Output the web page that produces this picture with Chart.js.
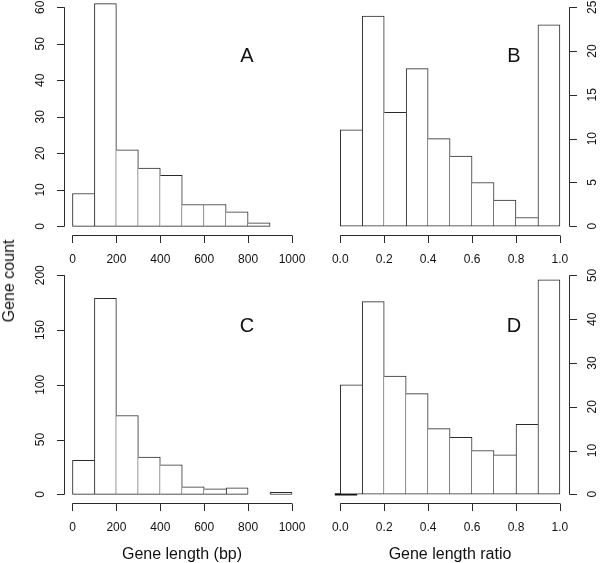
<!DOCTYPE html>
<html>
<head>
<meta charset="utf-8">
<script src="https://cdn.jsdelivr.net/npm/chart.js@4/dist/chart.umd.min.js"></script>
<style>
  html, body { margin: 0; padding: 0; background: #fff; }
  body { width: 600px; height: 563px; position: relative; overflow: hidden;
         font-family: "Liberation Sans", Arial, Helvetica, sans-serif; color: #111; }
  canvas { position: absolute; left: 0; top: 0; }
  .lbl { position: absolute; white-space: nowrap; line-height: 1; transform: translate(-50%, -50%); }
  .title { font-size: 16px; }
  .panel { font-size: 20px; }
  .rot { transform: translate(-50%, -50%) rotate(-90deg); }
</style>
</head>
<body>
<canvas id="cA" width="600" height="563"></canvas>
<canvas id="cB" width="600" height="563"></canvas>
<canvas id="cC" width="600" height="563"></canvas>
<canvas id="cD" width="600" height="563"></canvas>

<div class="lbl title rot" style="left:9px; top:281px;">Gene count</div>
<div class="lbl title" style="left:182px; top:554px;">Gene length (bp)</div>
<div class="lbl title" style="left:450px; top:554px;">Gene length ratio</div>
<div class="lbl panel" style="left:247px; top:55px;">A</div>
<div class="lbl panel" style="left:514px; top:55px;">B</div>
<div class="lbl panel" style="left:247px; top:325px;">C</div>
<div class="lbl panel" style="left:514px; top:325px;">D</div>

<script>
// ---------- data ----------
const lengthBinStarts = [0, 100, 200, 300, 400, 500, 600, 700, 800, 900];
const lengthBinWidth = 100;
const ratioBinStarts = [0.0, 0.1, 0.2, 0.3, 0.4, 0.5, 0.6, 0.7, 0.8, 0.9];
const ratioBinWidth = 0.1;

const countsA = [9, 61, 21, 16, 14, 6, 6, 4, 1, 0];
const countsB = [11, 24, 13, 18, 10, 8, 5, 3, 1, 23];
const countsC = [31, 179, 72, 34, 27, 7, 5, 6, 0, 2];
const countsD = [25, 44, 27, 23, 15, 13, 10, 9, 16, 49];

// short thick segment at the base of panel D
const dBaseX = [-0.025, 0.077];
const dBaseY = [0, 0];

const lengthTicks = [0, 200, 400, 600, 800, 1000];
const lengthTickLabels = ["0", "200", "400", "600", "800", "1000"];
const ratioTicks = [0.0, 0.2, 0.4, 0.6, 0.8, 1.0];
const ratioTickLabels = ["0.0", "0.2", "0.4", "0.6", "0.8", "1.0"];

const yTicksA = [0, 10, 20, 30, 40, 50, 60];
const yTicksB = [0, 5, 10, 15, 20, 25];
const yTicksC = [0, 50, 100, 150, 200];
const yTicksD = [0, 10, 20, 30, 40, 50];

// ---------- helpers ----------
function toBars(starts, width, counts) {
  return counts.map((c, i) => ({ x: starts[i] + width / 2, y: c }));
}

function edgeWidths(ctx) {
  const d = ctx.dataset.data;
  const i = ctx.dataIndex;
  const h = d[i].y;
  const prev = i > 0 ? d[i - 1].y : 0;
  const next = i < d.length - 1 ? d[i + 1].y : 0;
  return { top: 1, bottom: 1, left: h > prev ? 1 : 0, right: h >= next ? 1 : 0 };
}

const LINE = '#2a2a2a';
const TICK_FONT = '12px "Liberation Sans", Arial, Helvetica, sans-serif';

const rAxes = {
  id: 'rAxes',
  afterDraw(chart) {
    const o = chart.options.plugins.rAxes;
    if (!o) return;
    const ctx = chart.ctx;
    const xs = chart.scales.x, ys = chart.scales.y;
    const area = chart.chartArea;
    const tickLen = 7.5;
    ctx.save();
    ctx.strokeStyle = LINE;
    ctx.fillStyle = '#111';
    ctx.lineWidth = 1;
    ctx.font = TICK_FONT;

    // x axis
    const yAx = Math.round(area.bottom) + 0.5;
    const xFirst = xs.getPixelForValue(o.xTicks[0]);
    const xLast = xs.getPixelForValue(o.xTicks[o.xTicks.length - 1]);
    ctx.beginPath();
    ctx.moveTo(xFirst, yAx); ctx.lineTo(xLast, yAx);
    o.xTicks.forEach(v => {
      const px = Math.round(xs.getPixelForValue(v)) + 0.5;
      ctx.moveTo(px, yAx); ctx.lineTo(px, yAx + tickLen);
    });
    ctx.stroke();
    ctx.textAlign = 'center';
    ctx.textBaseline = 'middle';
    o.xTicks.forEach((v, i) => {
      ctx.fillText(o.xLabels[i], xs.getPixelForValue(v), yAx + 24.5);
    });

    // y axis
    const right = o.side === 'right';
    const xAx = Math.round(right ? area.right : area.left) + 0.5;
    const dir = right ? 1 : -1;
    const yFirst = ys.getPixelForValue(o.yTicks[0]);
    const yLast = ys.getPixelForValue(o.yTicks[o.yTicks.length - 1]);
    ctx.beginPath();
    ctx.moveTo(xAx, yFirst); ctx.lineTo(xAx, yLast);
    o.yTicks.forEach(v => {
      const py = Math.round(ys.getPixelForValue(v)) + 0.5;
      ctx.moveTo(xAx, py); ctx.lineTo(xAx + dir * tickLen, py);
    });
    ctx.stroke();
    o.yTicks.forEach(v => {
      ctx.save();
      ctx.translate(xAx + dir * 23.5, ys.getPixelForValue(v));
      ctx.rotate(-Math.PI / 2);
      ctx.fillText(String(v), 0, 0);
      ctx.restore();
    });
    ctx.restore();
  }
};

function makePanel(id, geom, xr, yr, bars, xTicks, xLabels, yTicks, side, extra) {
  const datasets = [{
    type: 'bar',
    data: bars,
    backgroundColor: '#ffffff',
    borderColor: LINE,
    borderWidth: edgeWidths,
    borderSkipped: false,
    barPercentage: 1,
    categoryPercentage: 1
  }];
  if (extra) datasets.push(extra);
  return new Chart(document.getElementById(id), {
    type: 'bar',
    data: { datasets },
    options: {
      responsive: false,
      animation: false,
      events: [],
      layout: { padding: { left: geom.left, right: 600 - geom.right, top: geom.top, bottom: 563 - geom.bottom } },
      plugins: { legend: { display: false }, tooltip: { enabled: false }, rAxes: { xTicks, xLabels, yTicks, side } },
      scales: {
        x: {
          type: 'linear', display: false, offset: false, min: xr[0], max: xr[1],
          afterBuildTicks: s => { s.ticks = xTicks.map(v => ({ value: v })); }
        },
        y: {
          type: 'linear', display: false, min: yr[0], max: yr[1],
          afterBuildTicks: s => { s.ticks = yTicks.map(v => ({ value: v })); }
        }
      }
    },
    plugins: [rAxes]
  });
}

makePanel('cA', { left: 63.7, right: 300.8, top: 0, bottom: 235.3 }, [-40, 1040], [-2.44, 62.0],
  toBars(lengthBinStarts, lengthBinWidth, countsA), lengthTicks, lengthTickLabels, yTicksA, 'left');

makePanel('cB', { left: 331.5, right: 568.7, top: 0, bottom: 235.3 }, [-0.04, 1.04], [-1.03, 25.83],
  toBars(ratioBinStarts, ratioBinWidth, countsB), ratioTicks, ratioTickLabels, yTicksB, 'right');

makePanel('cC', { left: 63.7, right: 300.8, top: 268, bottom: 503.3 }, [-40, 1040], [-8.12, 206.6],
  toBars(lengthBinStarts, lengthBinWidth, countsC), lengthTicks, lengthTickLabels, yTicksC, 'left');

makePanel('cD', { left: 331.5, right: 568.7, top: 268, bottom: 503.3 }, [-0.04, 1.04], [-2.06, 51.7],
  toBars(ratioBinStarts, ratioBinWidth, countsD), ratioTicks, ratioTickLabels, yTicksD, 'right',
  {
    type: 'line',
    data: dBaseX.map((x, i) => ({ x, y: dBaseY[i] })),
    borderColor: '#111',
    borderWidth: 2.2,
    pointRadius: 0,
    fill: false
  });
</script>
</body>
</html>
